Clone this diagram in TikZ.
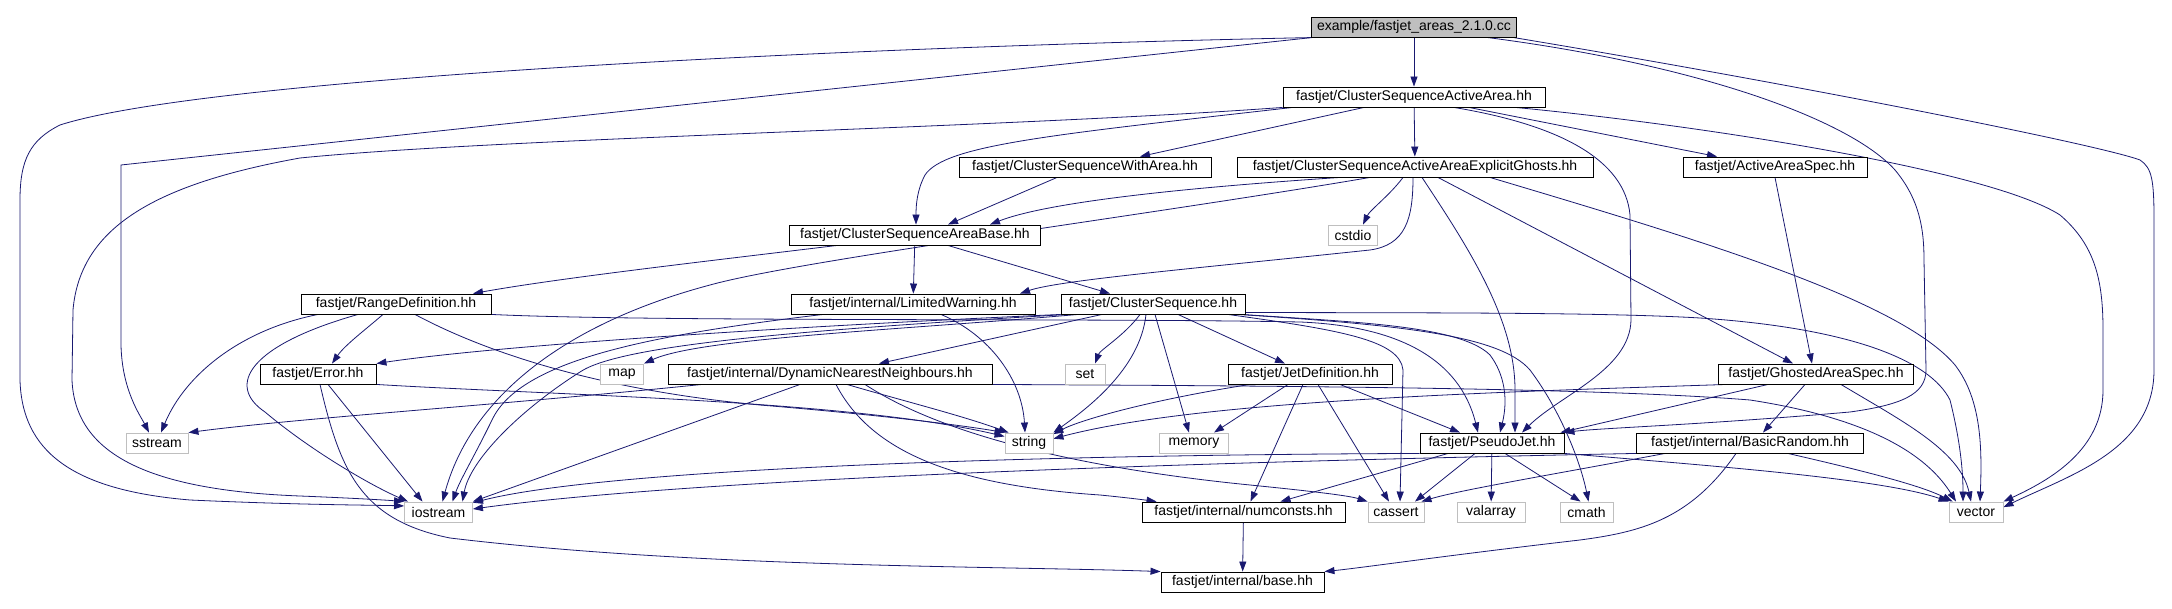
\documentclass[tikz,border=0pt]{standalone}
\usepackage{fontspec}
\setmainfont{Liberation Sans}
\usetikzlibrary{arrows.meta}
\definecolor{edgecol}{HTML}{191970}
\definecolor{sysgray}{HTML}{BFBFBF}
\definecolor{rootfill}{HTML}{BFBFBF}
\pgfdeclarelayer{bg}
\pgfsetlayers{bg,main}
\tikzset{
  nbox/.style={draw=black, fill=white, line width=0.9pt, minimum height=20pt, inner sep=0pt,
    font=\fontsize{14pt}{16pt}\selectfont},
  sysbox/.style={nbox, draw=sysgray},
  rootbox/.style={nbox, fill=rootfill},
  edge/.style={draw=edgecol, line width=0.8pt, -{Triangle[length=10pt,width=7pt]}},
}
\begin{document}
\begin{tikzpicture}[x=1pt,y=-1pt]
\useasboundingbox (0,0) rectangle (2172,609);
% nodes
\node[rootbox, minimum width=205pt] (E) at (1414,27) {example/fastjet\_areas\_2.1.0.cc};
\node[nbox, minimum width=262pt] (CA) at (1414,97) {fastjet/ClusterSequenceActiveArea.hh};
\node[nbox, minimum width=252pt] (CWA) at (1085,167) {fastjet/ClusterSequenceWithArea.hh};
\node[nbox, minimum width=356pt] (CAEG) at (1415,167) {fastjet/ClusterSequenceActiveAreaExplicitGhosts.hh};
\node[nbox, minimum width=184pt] (AAS) at (1775,167) {fastjet/ActiveAreaSpec.hh};
\node[nbox, minimum width=251pt] (CAB) at (915,235) {fastjet/ClusterSequenceAreaBase.hh};
\node[sysbox, minimum width=49pt] (cstdio) at (1353,235) {cstdio};
\node[nbox, minimum width=190pt] (RD) at (396,304) {fastjet/RangeDefinition.hh};
\node[nbox, minimum width=244pt] (LW) at (913,304) {fastjet/internal/LimitedWarning.hh};
\node[nbox, minimum width=184pt] (CS) at (1153,304) {fastjet/ClusterSequence.hh};
\node[nbox, minimum width=116pt] (Err) at (318,374) {fastjet/Error.hh};
\node[sysbox, minimum width=43pt] (map) at (622,374) {map};
\node[nbox, minimum width=324pt] (DNN) at (830,374) {fastjet/internal/DynamicNearestNeighbours.hh};
\node[sysbox, minimum width=40pt] (set) at (1085,374) {set};
\node[nbox, minimum width=164pt] (JD) at (1310,374) {fastjet/JetDefinition.hh};
\node[nbox, minimum width=195pt] (GAS) at (1816,374) {fastjet/GhostedAreaSpec.hh};
\node[sysbox, minimum width=62pt] (sstream) at (157,443) {sstream};
\node[sysbox, minimum width=48pt] (string) at (1029,443) {string};
\node[sysbox, minimum width=69pt] (memory) at (1194,443) {memory};
\node[nbox, minimum width=144pt] (PJ) at (1492,443) {fastjet/PseudoJet.hh};
\node[nbox, minimum width=227pt] (BR) at (1750,443) {fastjet/internal/BasicRandom.hh};
\node[sysbox, minimum width=68pt] (iostream) at (438.5,512) {iostream};
\node[nbox, minimum width=203pt] (NC) at (1243.5,512) {fastjet/internal/numconsts.hh};
\node[sysbox, minimum width=56pt] (cassert) at (1396,512) {cassert};
\node[sysbox, minimum width=68pt] (valarray) at (1491,512) {valarray};
\node[sysbox, minimum width=53pt] (cmath) at (1586.5,512) {cmath};
\node[sysbox, minimum width=54pt] (vector) at (1976,512) {vector};
\node[nbox, minimum width=163pt] (base) at (1242.5,582) {fastjet/internal/base.hh};
% edges
\begin{pgfonlayer}{bg}
\fill[white] (0,0) rectangle (2172,609);
% example
\draw[edge] (E) -- (CA);
\draw[edge] ([xshift=6pt]E.south west) .. controls (800,48) and (200,80) .. (60,125) .. controls (30,140) and (20,160) .. (20,200) -- (20,380) .. controls (22,450) and (70,490) .. (190,500) .. controls (300,505) and (370,505) .. (iostream.170);
\draw[edge] ([xshift=2pt]E.south west) -- (121,165) -- (121,345) .. controls (122,390) and (140,415) .. ([xshift=-8pt]sstream.north);
\draw[edge] ([xshift=-30pt]E.south east) .. controls (1700,65) and (1850,120) .. (1895,170) .. controls (1920,200) and (1924,230) .. (1924,260) -- (1926,370) .. controls (1926,395) and (1900,405) .. (1850,412) .. controls (1700,425) and (1600,428) .. (PJ.north east);
\draw[edge] ([xshift=-4pt]E.south east) .. controls (1800,85) and (2100,145) .. (2140,160) .. controls (2152,168) and (2154,180) .. (2154,220) -- (2154,370) .. controls (2154,450) and (2070,475) .. (vector.10);
% ClusterSequenceActiveArea
\draw[edge] ([xshift=-50pt]CA.south) -- ([xshift=55pt]CWA.north);
\draw[edge] (CA) -- (CAEG);
\draw[edge] ([xshift=55pt]CA.south) -- ([xshift=-58pt]AAS.north);
\draw[edge] ([xshift=10pt]CA.south west) .. controls (1050,135) and (945,145) .. (925,175) .. controls (917,190) and (916,205) .. ([xshift=1pt]CAB.north);
\draw[edge] (CA.south west) .. controls (1000,128) and (500,138) .. (300,158) .. controls (150,185) and (80,230) .. (73,310) -- (72,380) .. controls (75,450) and (140,490) .. (300,496) .. controls (350,498) and (385,500) .. (iostream.north west);
\draw[edge] ([xshift=40pt]CA.south) .. controls (1560,125) and (1625,160) .. (1630,215) -- (1631,320) .. controls (1630,370) and (1560,395) .. ([xshift=30pt]PJ.north);
\draw[edge] ([xshift=-30pt]CA.south east) .. controls (1700,125) and (1990,170) .. (2060,215) .. controls (2095,245) and (2103,280) .. (2103,330) -- (2103,390) .. controls (2103,450) and (2050,480) .. (vector.north east);
% ClusterSequenceWithArea
\draw[edge] ([xshift=-28pt]CWA.south) -- ([xshift=33pt]CAB.north);
% Explicit ghosts
\draw[edge] ([xshift=-75pt]CAEG.south) .. controls (1150,190) and (1040,205) .. ([xshift=75pt]CAB.north);
\draw[edge] ([xshift=-45pt]CAEG.south) .. controls (1150,215) and (800,260) .. (710,285) .. controls (560,325) and (470,400) .. ([xshift=4pt]iostream.north);
\draw[edge] ([xshift=-12pt]CAEG.south) .. controls (1390,195) and (1370,210) .. ([xshift=10pt]cstdio.north);
\draw[edge] ([xshift=-2pt]CAEG.south) .. controls (1413,220) and (1405,245) .. (1370,250) .. controls (1200,268) and (1060,280) .. ([xshift=107pt]LW.north);
\draw[edge] ([xshift=7pt]CAEG.south) .. controls (1470,250) and (1515,320) .. (1515,390) -- ([xshift=23pt]PJ.north);
\draw[edge] ([xshift=23pt]CAEG.south) -- ([xshift=-23pt]GAS.north);
\draw[edge] ([xshift=75pt]CAEG.south) .. controls (1700,240) and (1900,300) .. (1955,365) .. controls (1982,400) and (1982,450) .. ([xshift=4pt]vector.north);
% ActiveAreaSpec
\draw[edge] (AAS.south) -- ([xshift=-4pt]GAS.north);
% AreaBase
\draw[edge] ([xshift=-78pt]CAB.south) .. controls (700,262) and (560,278) .. ([xshift=77pt]RD.north);
\draw[edge] (CAB) -- (LW);
\draw[edge] ([xshift=33pt]CAB.south) -- ([xshift=-43pt]CS.north);
% RangeDefinition
\draw[edge] ([xshift=-13pt]RD.south) .. controls (365,330) and (345,345) .. ([xshift=14pt]Err.north);
\draw[edge] ([xshift=-78pt]RD.south) .. controls (240,330) and (185,375) .. ([xshift=4pt]sstream.north);
\draw[edge] ([xshift=-38pt]RD.south) .. controls (250,345) and (225,385) .. (265,412) .. controls (310,450) and (370,485) .. ([xshift=4pt]iostream.north west);
\draw[edge] ([xshift=19pt]RD.south) .. controls (500,360) and (620,392) .. (760,405) .. controls (880,415) and (960,425) .. (string.north west);
\draw[edge] (RD.south east) .. controls (650,322) and (1100,318) .. (1300,322) .. controls (1400,326) and (1460,360) .. ([xshift=-14pt]PJ.north);
% ClusterSequence
\draw[edge] ([xshift=-3pt]CS.south east) .. controls (1350,322) and (1460,325) .. (1490,355) .. controls (1505,375) and (1508,400) .. ([xshift=8pt]PJ.north);
\draw[edge] ([yshift=2pt]CS.south east) .. controls (1400,313) and (1600,312) .. (1700,318) .. controls (1850,328) and (1930,360) .. (1950,400) .. controls (1960,440) and (1963,470) .. ([xshift=-13pt]vector.north);
\draw[edge] ([xshift=75pt]CS.south) .. controls (1340,330) and (1400,340) .. (1403,370) -- ([xshift=4pt]cassert.north);
\draw[edge] ([xshift=85pt]CS.south) .. controls (1400,325) and (1500,335) .. (1530,370) .. controls (1560,410) and (1580,460) .. ([xshift=2pt]cmath.north);
\draw[edge] ([xshift=-51pt]CS.south) -- ([xshift=49pt]DNN.north);
\draw[edge] ([xshift=-13pt]CS.south) .. controls (1125,335) and (1100,350) .. ([xshift=10pt]set.north);
\draw[edge] ([xshift=-7pt]CS.south) .. controls (1140,370) and (1085,410) .. (string.north east);
\draw[edge] ([xshift=2pt]CS.south) -- ([xshift=-5pt]memory.north);
\draw[edge] ([xshift=25pt]CS.south) -- ([xshift=-25pt]JD.north);
\draw[edge] ([xshift=-75pt]CS.south) .. controls (900,330) and (700,338) .. (map.north east);
\draw[edge] (CS.south west) .. controls (800,326) and (500,345) .. (Err.north east);
\draw[edge] ([xshift=-85pt]CS.south) .. controls (800,330) and (620,345) .. (580,372) .. controls (520,410) and (470,460) .. ([xshift=24pt]iostream.north);
% LimitedWarning
\draw[edge] ([xshift=28pt]LW.south) .. controls (990,335) and (1022,380) .. ([xshift=-4pt]string.north);
\draw[edge] ([xshift=-90pt]LW.south) .. controls (650,335) and (520,360) .. (492,420) .. controls (475,455) and (460,480) .. ([xshift=14pt]iostream.north);
% Error
\draw[edge] ([xshift=10pt]Err.south) -- ([xshift=-16pt]iostream.north);
\draw[edge] ([xshift=2pt]Err.south) .. controls (340,470) and (360,520) .. (450,538) .. controls (700,568) and (1000,566) .. (base.north west);
\draw[edge] (Err.south east) .. controls (550,395) and (850,400) .. (string.165);
% DynamicNearestNeighbours
\draw[edge] ([xshift=17pt]DNN.south) .. controls (900,400) and (960,415) .. ([xshift=4pt]string.north west);
\draw[edge] ([xshift=-128pt]DNN.south) .. controls (500,405) and (300,418) .. (sstream.north east);
\draw[edge] ([xshift=-30pt]DNN.south) -- (iostream.north east);
\draw[edge] ([xshift=6pt]DNN.south) .. controls (870,450) and (950,485) .. (1100,495) .. controls (1130,498) and (1145,500) .. ([xshift=15pt]NC.north west);
\draw[edge] ([xshift=35pt]DNN.south) .. controls (950,440) and (1100,470) .. (1250,485) .. controls (1320,492) and (1350,496) .. (cassert.north west);
\draw[edge] (DNN.south east) .. controls (1300,386) and (1600,388) .. (1750,400) .. controls (1880,420) and (1930,460) .. ([xshift=-20pt]vector.north);
% JetDefinition
\draw[edge] ([xshift=-60pt]JD.south) .. controls (1150,400) and (1080,420) .. (string.20);
\draw[edge] ([xshift=-22pt]JD.south) -- ([xshift=20pt]memory.north);
\draw[edge] ([xshift=-7pt]JD.south) -- ([xshift=7pt]NC.north);
\draw[edge] ([xshift=8pt]JD.south) -- ([xshift=-7pt]cassert.north);
\draw[edge] ([xshift=30pt]JD.south) -- ([xshift=-32pt]PJ.north);
% GhostedAreaSpec
\draw[edge] ([xshift=-48pt]GAS.south) -- ([xshift=-4pt]PJ.north east);
\draw[edge] ([xshift=-11pt]GAS.south) -- ([xshift=13pt]BR.north);
\draw[edge] ([xshift=25pt]GAS.south) .. controls (1900,420) and (1960,450) .. ([xshift=-5pt]vector.north);
\draw[edge] ([xshift=-89pt]GAS.south) .. controls (1500,392) and (1200,400) .. (string.10);
% PseudoJet
\draw[edge] ([xshift=-44pt]PJ.south) -- ([xshift=37pt]NC.north);
\draw[edge] ([xshift=-17pt]PJ.south) -- ([xshift=19pt]cassert.north);
\draw[edge] (PJ) -- (valarray);
\draw[edge] ([xshift=13pt]PJ.south) -- ([xshift=-6pt]cmath.north);
\draw[edge] (PJ.south east) .. controls (1700,465) and (1880,478) .. (vector.north west);
\draw[edge] (PJ.south west) .. controls (1000,455) and (600,470) .. (iostream.15);
% BasicRandom
\draw[edge] ([xshift=-85pt]BR.south) .. controls (1550,475) and (1460,490) .. ([xshift=-3pt]cassert.north east);
\draw[edge] ([xshift=38pt]BR.south) .. controls (1860,470) and (1920,485) .. ([xshift=4pt]vector.north west);
\draw[edge] ([xshift=-14pt]BR.south) .. controls (1690,520) and (1640,532) .. (1580,540) .. controls (1450,555) and (1360,568) .. (base.north east);
\draw[edge] (BR.south west) .. controls (1200,462) and (700,478) .. (iostream.5);
% numconsts
\draw[edge] (NC) -- (base);
\end{pgfonlayer}
\end{tikzpicture}
\end{document}
